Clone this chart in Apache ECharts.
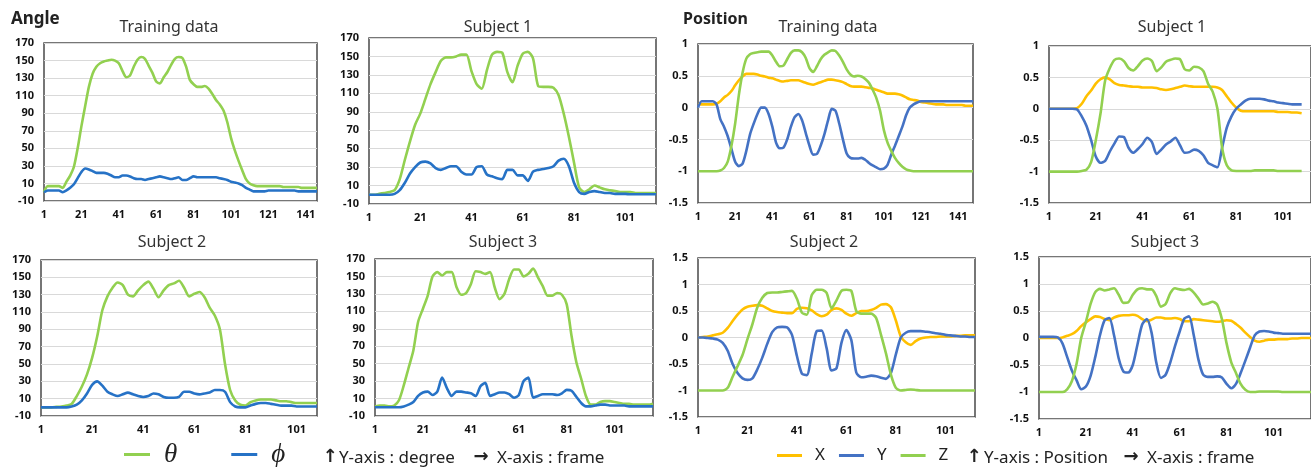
<!DOCTYPE html>
<html>
<head>
<meta charset="utf-8">
<script src="https://cdn.jsdelivr.net/npm/echarts@6/dist/echarts.min.js"></script>
<style>
  html, body { margin: 0; padding: 0; background: #ffffff; }
  #chart { width: 1311px; height: 467px; }
</style>
</head>
<body>
<div id="chart"></div>
<script>
// Samples are taken every FRAME_STEP frames, starting at frame 1.
const FRAME_STEP = 2;

// Tick labels
const trainFrameTicks = [1, 21, 41, 61, 81, 101, 121, 141];
const subjectFrameTicks = [1, 21, 41, 61, 81, 101];
const angleTicks = [-10, 10, 30, 50, 70, 90, 110, 130, 150, 170];
const posTicksTop = [-1.5, -1, -0.5, 0, 0.5, 1];
const posTicksBottom = [-1.5, -1, -0.5, 0, 0.5, 1, 1.5];

// ---- Angle (degree) ----
const angleTrainTheta = [0,7,7,7,7,5,12,19,29,50, 75,98,120,135,143,147,149,150,151,150,
  147,138,131,133,143,151,154,152,144,136, 126,124,131,137,145,152,154,153,143,128,
  123,120,120,121,118,112,105,100,93,80, 62,48,36,25,15,10,8,7,7,7,
  7,7,7,7,6,6,6,6,6,5, 5,5,5,5];
const angleTrainPhi = [0,2,2,2,2,0,2,5,9,16, 23,27,26,24,22,22,22,21,19,17,
  17,19,19,18,16,15,15,14,15,16, 17,18,17,16,15,16,17,14,14,16,
  18,17,17,17,17,17,17,16,15,14, 12,11,10,8,5,3,1,1,1,1,
  2,2,2,2,2,2,2,2,1,1, 1,1,1,1];

const angleSub1Theta = [0,0,1,2,3,5,17,38,58,76, 88,104,120,133,145,149,149,150,152,152,
  134,120,115,135,152,155,154,133,122,140, 153,155,148,118,117,117,116,108,88,63,
  35,8,3,6,10,8,6,5,4,3, 3,3,2,2,2,2,2];
const angleSub1Phi = [0,0,0,0,0,1,5,13,23,30, 35,36,34,29,27,29,31,31,25,22,
  22,30,31,22,20,18,17,27,27,21, 21,15,25,27,28,29,31,37,39,31,
  13,3,1,3,4,3,2,2,1,1, 1,0.5,0.5,0.5,0.5,0.5,0.5];

const angleSub2Theta = [0,0,0,0.5,1,2,4,13,24,38, 57,82,112,128,138,144,141,130,128,135,
  141,145,137,127,135,141,143,146,138,128, 131,133,127,115,106,90,50,20,8,3,
  2,6,8,9,9,9,8,7,7,6, 5,5,5,5,5];
const angleSub2Phi = [0,0,0,0,0,0,1,3,8,16, 26,30,25,18,15,13,15,17,15,13,
  12,13,16,15,12,11,11,12,18,18, 16,15,16,17,20,20,18,6,1,0,
  0,2,4,5,5,4,3,2,2,2, 1,1,1,1,1];

const angleSub3Theta = [1,2,2,1,2,8,25,45,65,98, 113,128,150,155,151,155,155,138,129,131,
  141,156,155,153,155,137,124,130,147,158, 158,150,153,159,149,139,128,128,131,129,
  118,82,52,33,13,3,3,6,7,7, 6,5,4,4,3,3,3,3,4];
const angleSub3Phi = [0,0,0,0,0,0,1,3,6,13, 17,18,14,18,34,22,13,18,18,17,
  16,13,24,28,13,15,17,17,15,11, 14,30,34,11,13,15,15,15,14,16,
  20,19,12,5,1,1,2,3,3,2, 2,2,2,1,1,1,1,1,1];

// ---- Position ----
const posTrainX = [0.05,0.05,0.05,0.05,0.05,0.06,0.1,0.16,0.2,0.26,
  0.35,0.43,0.49,0.53,0.53,0.53,0.52,0.5,0.49,0.47,
  0.46,0.44,0.42,0.41,0.42,0.43,0.43,0.43,0.41,0.39,
  0.37,0.36,0.38,0.4,0.42,0.44,0.44,0.43,0.42,0.4,
  0.37,0.34,0.33,0.33,0.33,0.32,0.31,0.3,0.28,0.26,
  0.24,0.22,0.22,0.22,0.21,0.19,0.16,0.13,0.12,0.11,
  0.09,0.08,0.07,0.06,0.05,0.05,0.05,0.04,0.04,0.04,
  0.04,0.04,0.03,0.03,0.03];
const posTrainY = [0,0.1,0.1,0.1,0.1,0.05,-0.18,-0.3,-0.45,-0.65,
  -0.85,-0.92,-0.88,-0.68,-0.42,-0.25,-0.1,0,0,-0.1,
  -0.3,-0.55,-0.64,-0.63,-0.5,-0.3,-0.15,-0.1,-0.2,-0.4,
  -0.6,-0.74,-0.73,-0.6,-0.42,-0.2,-0.02,-0.05,-0.25,-0.5,
  -0.72,-0.79,-0.8,-0.8,-0.79,-0.82,-0.87,-0.91,-0.94,-0.97,
  -0.96,-0.9,-0.74,-0.6,-0.45,-0.3,-0.12,0,0.05,0.08,
  0.1,0.1,0.1,0.1,0.1,0.1,0.1,0.1,0.1,0.1,
  0.1,0.1,0.1,0.1,0.1];
const posTrainZ = [-1,-1,-1,-1,-1,-1,-0.99,-0.95,-0.85,-0.6,
  -0.25,0.2,0.55,0.77,0.84,0.86,0.87,0.88,0.88,0.88,
  0.82,0.72,0.65,0.66,0.76,0.86,0.9,0.9,0.87,0.78,
  0.62,0.56,0.65,0.76,0.83,0.87,0.9,0.89,0.82,0.72,
  0.6,0.52,0.49,0.5,0.49,0.45,0.39,0.28,0.15,-0.05,
  -0.35,-0.55,-0.68,-0.79,-0.87,-0.93,-0.97,-0.99,-1,-1,
  -1,-1,-1,-1,-1,-1,-1,-1,-1,-1,
  -1,-1,-1,-1,-1];

const posSub1X = [0,0,0,0,0,0,0.01,0.08,0.2,0.29,
  0.4,0.47,0.5,0.47,0.41,0.38,0.37,0.36,0.35,0.35,
  0.34,0.34,0.34,0.33,0.31,0.3,0.31,0.33,0.35,0.37,
  0.36,0.35,0.35,0.35,0.35,0.35,0.34,0.3,0.2,0.1,
  0.02,-0.03,-0.04,-0.04,-0.04,-0.04,-0.04,-0.04,-0.04,-0.05,
  -0.05,-0.05,-0.06,-0.06,-0.07];
const posSub1Y = [0,0,0,0,0,0,-0.01,-0.12,-0.27,-0.5,
  -0.76,-0.86,-0.83,-0.68,-0.55,-0.44,-0.45,-0.62,-0.7,-0.64,
  -0.56,-0.46,-0.53,-0.72,-0.65,-0.57,-0.52,-0.46,-0.58,-0.7,
  -0.69,-0.65,-0.67,-0.74,-0.86,-0.9,-0.93,-0.62,-0.3,-0.12,
  0,0.07,0.13,0.16,0.16,0.16,0.15,0.13,0.12,0.1,
  0.09,0.08,0.07,0.07,0.07];
const posSub1Z = [-1,-1,-1,-1,-1,-1,-1,-0.99,-0.97,-0.85,
  -0.5,-0.08,0.45,0.65,0.78,0.8,0.76,0.65,0.61,0.68,
  0.77,0.8,0.76,0.6,0.66,0.75,0.78,0.8,0.79,0.63,
  0.61,0.67,0.66,0.6,0.4,0.27,0,-0.62,-0.9,-0.98,
  -0.99,-0.99,-0.99,-0.99,-0.98,-0.98,-0.98,-0.98,-0.98,-0.99,
  -0.99,-0.99,-0.99,-0.99,-0.99];

const posSub2X = [0,0.01,0.02,0.04,0.06,0.09,0.18,0.31,0.43,0.53,
  0.58,0.6,0.61,0.6,0.55,0.5,0.48,0.47,0.46,0.46,
  0.54,0.56,0.55,0.51,0.44,0.4,0.43,0.52,0.55,0.52,
  0.45,0.41,0.46,0.5,0.5,0.52,0.56,0.62,0.63,0.57,
  0.32,0.02,-0.09,-0.14,-0.07,-0.02,0,0.01,0.01,0.02,
  0.02,0.02,0.03,0.03,0.04,0.04,0.04];
const posSub2Y = [0,0,-0.01,-0.02,-0.04,-0.1,-0.25,-0.5,-0.67,-0.77,
  -0.8,-0.77,-0.6,-0.38,-0.12,0.1,0.19,0.2,0.19,0.05,
  -0.35,-0.68,-0.71,-0.3,0.12,0.13,-0.2,-0.62,-0.58,-0.1,
  0.14,-0.05,-0.66,-0.75,-0.74,-0.72,-0.73,-0.76,-0.78,-0.67,
  -0.32,0,0.09,0.12,0.12,0.12,0.11,0.1,0.08,0.07,
  0.05,0.04,0.03,0.02,0.02,0.01,0.01];
const posSub2Z = [-1,-1,-1,-1,-1,-1,-0.95,-0.74,-0.54,-0.33,
  -0.03,0.25,0.57,0.75,0.84,0.85,0.85,0.86,0.87,0.88,
  0.73,0.47,0.43,0.8,0.9,0.9,0.84,0.55,0.7,0.88,
  0.9,0.88,0.5,0.45,0.45,0.45,0.37,0.05,-0.3,-0.7,
  -0.95,-1,-0.99,-0.98,-0.99,-1,-1,-1,-1,-1,
  -1,-1,-1,-1,-1,-1,-1];

const posSub3X = [0,0,0,0,0,0.01,0.04,0.07,0.13,0.22,
  0.29,0.35,0.4,0.39,0.35,0.33,0.38,0.41,0.42,0.42,
  0.43,0.41,0.35,0.31,0.34,0.38,0.38,0.36,0.36,0.37,
  0.35,0.31,0.31,0.35,0.34,0.33,0.32,0.31,0.3,0.31,
  0.33,0.32,0.26,0.19,0.1,0.02,-0.05,-0.07,-0.05,-0.03,
  -0.03,-0.02,-0.02,-0.02,-0.01,-0.01,0,0,0];
const posSub3Y = [0.02,0.02,0.02,0.02,0.01,-0.1,-0.35,-0.6,-0.78,-0.95,
  -0.9,-0.7,-0.35,0.05,0.33,0.37,0.05,-0.38,-0.62,-0.64,
  -0.5,-0.12,0.25,0.35,0.1,-0.45,-0.74,-0.68,-0.45,-0.15,
  0.12,0.36,0.4,0.05,-0.4,-0.68,-0.72,-0.72,-0.71,-0.73,
  -0.85,-0.93,-0.85,-0.65,-0.42,-0.18,0.05,0.12,0.13,0.12,
  0.1,0.09,0.08,0.08,0.08,0.08,0.08,0.08,0.08];
const posSub3Z = [-1,-1,-1,-1,-1,-1,-0.95,-0.8,-0.48,0,
  0.3,0.63,0.85,0.91,0.88,0.9,0.92,0.8,0.65,0.66,
  0.8,0.9,0.92,0.9,0.9,0.78,0.58,0.63,0.83,0.92,
  0.9,0.89,0.91,0.84,0.73,0.62,0.64,0.67,0.62,0.35,
  -0.1,-0.45,-0.65,-0.85,-0.96,-1,-1,-0.99,-0.99,-0.99,
  -0.99,-0.99,-1,-1,-1,-1,-1,-1,-1];

// ---- Styling ----
const FONT = '"Noto Sans", "Noto Sans CJK KR", sans-serif';
const GREEN = '#92d050';
const BLUE_ANGLE = '#2672c6';
const BLUE_POS = '#4472c4';
const YELLOW = '#ffc000';
const GRID_LINE = '#d9d9d9';
const BORDER = '#4a4a4a';

function toPoints(values) {
  return values.map((v, i) => [1 + i * FRAME_STEP, v]);
}

const panels = [
  { title: 'Training data', cx: 169, cy: 27, box: { left: 44, top: 43, width: 273, height: 158 },
    xMax: 147, xTicks: trainFrameTicks, yMin: -10, yMax: 170, yStep: 20, yTicks: angleTicks,
    lines: [['θ', angleTrainTheta, GREEN], ['ϕ', angleTrainPhi, BLUE_ANGLE]] },
  { title: 'Subject 1', cx: 498, cy: 27, box: { left: 369, top: 38, width: 287, height: 166 },
    xMax: 113, xTicks: subjectFrameTicks, yMin: -10, yMax: 170, yStep: 20, yTicks: angleTicks,
    lines: [['θ', angleSub1Theta, GREEN], ['ϕ', angleSub1Phi, BLUE_ANGLE]] },
  { title: 'Subject 2', cx: 172, cy: 242, box: { left: 41, top: 260, width: 276, height: 156 },
    xMax: 109, xTicks: subjectFrameTicks, yMin: -10, yMax: 170, yStep: 20, yTicks: angleTicks,
    lines: [['θ', angleSub2Theta, GREEN], ['ϕ', angleSub2Phi, BLUE_ANGLE]] },
  { title: 'Subject 3', cx: 503, cy: 242, box: { left: 375, top: 259, width: 278, height: 157 },
    xMax: 117, xTicks: subjectFrameTicks, yMin: -10, yMax: 170, yStep: 20, yTicks: angleTicks,
    lines: [['θ', angleSub3Theta, GREEN], ['ϕ', angleSub3Phi, BLUE_ANGLE]] },
  { title: 'Training data', cx: 828, cy: 27, box: { left: 698, top: 44, width: 275, height: 159 },
    xMax: 149, xTicks: trainFrameTicks, yMin: -1.5, yMax: 1, yStep: 0.5, yTicks: posTicksTop,
    lines: [['X', posTrainX, YELLOW], ['Y', posTrainY, BLUE_POS], ['Z', posTrainZ, GREEN]] },
  { title: 'Subject 1', cx: 1172, cy: 27, box: { left: 1049, top: 46, width: 273, height: 157 },
    xMax: 113, xTicks: subjectFrameTicks, yMin: -1.5, yMax: 1, yStep: 0.5, yTicks: posTicksTop,
    lines: [['X', posSub1X, YELLOW], ['Y', posSub1Y, BLUE_POS], ['Z', posSub1Z, GREEN]] },
  { title: 'Subject 2', cx: 824, cy: 242, box: { left: 698, top: 258, width: 277, height: 159 },
    xMax: 113, xTicks: subjectFrameTicks, yMin: -1.5, yMax: 1.5, yStep: 0.5, yTicks: posTicksBottom,
    lines: [['X', posSub2X, YELLOW], ['Y', posSub2Y, BLUE_POS], ['Z', posSub2Z, GREEN]] },
  { title: 'Subject 3', cx: 1165, cy: 242, box: { left: 1039, top: 257, width: 276, height: 162 },
    xMax: 117, xTicks: subjectFrameTicks, yMin: -1.5, yMax: 1.5, yStep: 0.5, yTicks: posTicksBottom,
    lines: [['X', posSub3X, YELLOW], ['Y', posSub3Y, BLUE_POS], ['Z', posSub3Z, GREEN]] }
];

const labelStyle = { fontFamily: FONT, fontWeight: 'bold', fontSize: 11, color: '#111' };

const grid = [], xAxis = [], yAxis = [], series = [], graphic = [];

panels.forEach((p, i) => {
  grid.push(Object.assign({ show: true, borderColor: BORDER, borderWidth: 1.5,
    backgroundColor: 'transparent', containLabel: false }, p.box));
  xAxis.push({
    type: 'value', gridIndex: i, min: 1, max: p.xMax,
    axisLine: { show: false }, splitLine: { show: false },
    axisTick: { show: false, customValues: p.xTicks },
    axisLabel: Object.assign({ customValues: p.xTicks, margin: 8 }, labelStyle)
  });
  yAxis.push({
    type: 'value', gridIndex: i, min: p.yMin, max: p.yMax, interval: p.yStep,
    axisLine: { show: false },
    axisTick: { show: false, customValues: p.yTicks },
    axisLabel: Object.assign({ customValues: p.yTicks, margin: 10 }, labelStyle),
    splitLine: { show: true, lineStyle: { color: GRID_LINE, width: 1.2 } }
  });
  p.lines.forEach(([name, values, color]) => {
    series.push({
      type: 'line', name, xAxisIndex: i, yAxisIndex: i,
      data: toPoints(values), showSymbol: false, smooth: 0.25,
      color, itemStyle: { color }, lineStyle: { color, width: 2.6 },
      emphasis: { disabled: true }, animation: false
    });
  });
  graphic.push({ type: 'text', x: p.cx, y: p.cy,
    style: { text: p.title, font: '16px ' + FONT, fill: '#333',
      align: 'center', verticalAlign: 'middle', textAlign: 'center', textVerticalAlign: 'middle' } });
});

function addText(text, x, y, font, align) {
  graphic.push({ type: 'text', x, y,
    style: { text, font, fill: '#222', align: align || 'left', verticalAlign: 'middle',
      textAlign: align || 'left', textVerticalAlign: 'middle' } });
}

// Section headings
addText('Angle', 11, 19, 'bold 17px ' + FONT);
addText('Position', 683, 19, 'bold 16px ' + FONT);

// Axis notes beside the legends
addText('↑', 330, 457, 'bold 18px "DejaVu Sans", sans-serif', 'center');
addText('Y-axis : degree', 339, 458, '17px ' + FONT);
addText('→', 481, 457, 'bold 18px "DejaVu Sans", sans-serif', 'center');
addText('X-axis : frame', 497, 458, '17px ' + FONT);
addText('↑', 974, 457, 'bold 18px "DejaVu Sans", sans-serif', 'center');
addText('Y-axis : Position', 984, 458, '17px ' + FONT);
addText('→', 1131, 457, 'bold 18px "DejaVu Sans", sans-serif', 'center');
addText('X-axis : frame', 1147, 458, '17px ' + FONT);

const chart = echarts.init(document.getElementById('chart'), null, { renderer: 'canvas' });
chart.setOption({
  backgroundColor: '#ffffff',
  animation: false,
  grid, xAxis, yAxis, series, graphic,
  legend: [
    { data: ['θ', 'ϕ'], left: 124, top: 441, padding: 0, icon: 'rect',
      itemWidth: 26, itemHeight: 3, itemGap: 54, selectedMode: false,
      textStyle: { fontFamily: '"Liberation Serif", "DejaVu Serif", serif', fontStyle: 'italic', fontSize: 27,
        color: '#222', padding: [0, 0, 0, 9] } },
    { data: ['X', 'Y', 'Z'], left: 777, top: 447, padding: 0, icon: 'rect',
      itemWidth: 25, itemHeight: 3, itemGap: 14, selectedMode: false,
      textStyle: { fontFamily: FONT, fontSize: 17, color: '#222', padding: [0, 0, 0, 8] } }
  ]
});
</script>
</body>
</html>
